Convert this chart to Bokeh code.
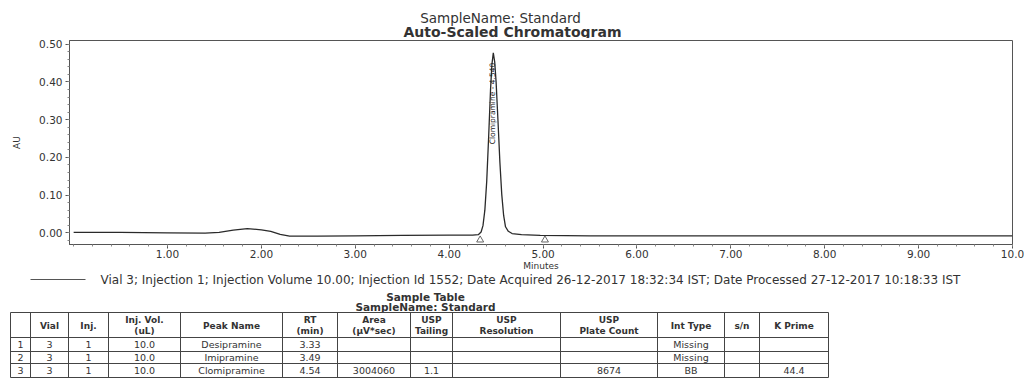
from math import pi
from bokeh.plotting import figure
from bokeh.layouts import column
from bokeh.models import Range1d, FixedTicker, PrintfTickFormatter
from bokeh.core.properties import value
from bokeh.embed import file_html
from bokeh.resources import INLINE

# ---------------- data ----------------
time_min = [0.00, 0.50, 1.00, 1.40, 1.55, 1.70, 1.85, 2.00, 2.10, 2.20, 2.30, 2.60, 3.00, 3.50,
            4.00, 4.25, 4.31, 4.34, 4.36, 4.38, 4.40, 4.42, 4.44, 4.455, 4.47, 4.485, 4.50,
            4.52, 4.54, 4.56, 4.58, 4.60, 4.63, 4.67, 4.77, 4.97, 5.50, 6.00, 7.00, 8.00,
            9.00, 10.00]
au = [0.001, 0.001, 0.000, -0.001, 0.001, 0.007, 0.011, 0.008, 0.004, -0.004, -0.009, -0.009,
      -0.008, -0.007, -0.006, -0.006, -0.005, 0.002, 0.019, 0.060, 0.137, 0.252, 0.377, 0.446,
      0.477, 0.453, 0.399, 0.296, 0.188, 0.102, 0.046, 0.016, 0.004, -0.002, -0.005, -0.007,
      -0.008, -0.008, -0.008, -0.008, -0.008, -0.008]

peak_apex_t = [4.462]
peak_label_y = [0.235]
peak_labels = ["Clomipramine - 4.540"]
integration_t = [4.33, 5.02]
integration_y = [-0.019, -0.019]

x_ticks = [1, 2, 3, 4, 5, 6, 7, 8, 9, 10]
y_ticks = [0.0, 0.1, 0.2, 0.3, 0.4, 0.5]

chart_title = "Auto-Scaled Chromatogram"
sample_title = "SampleName: Standard"
legend_text = ("Vial 3; Injection 1; Injection Volume 10.00; Injection Id 1552; "
               "Date Acquired 26-12-2017 18:32:34 IST; Date Processed 27-12-2017 10:18:33 IST")
table_title = "Sample Table"

header_top = ["", "Vial", "Inj.", "Inj. Vol.", "Peak Name", "RT", "Area", "USP", "USP", "USP",
              "Int Type", "s/n", "K Prime"]
header_bottom = ["", "", "", "(uL)", "", "(min)", "(µV*sec)", "Tailing", "Resolution",
                 "Plate Count", "", "", ""]
row_ids = ["1", "2", "3"]
vials = ["3", "3", "3"]
injs = ["1", "1", "1"]
inj_vols = ["10.0", "10.0", "10.0"]
peak_names = ["Desipramine", "Imipramine", "Clomipramine"]
rts = ["3.33", "3.49", "4.54"]
areas = ["", "", "3004060"]
usp_tailing = ["", "", "1.1"]
usp_resolution = ["", "", ""]
plate_counts = ["", "", "8674"]
int_types = ["Missing", "Missing", "BB"]
sn = ["", "", ""]
k_prime = ["", "", "44.4"]

# ---------------- style ----------------
FONT = "DejaVu Sans"
TXT = "#333333"
LINE = "#555555"
W = 1024


def no_align(f):
    try:
        f.frame_align = False
    except AttributeError:
        pass


def blank_fig(h):
    f = figure(width=W, height=h, x_range=Range1d(0, W), y_range=Range1d(h, 0),
               x_axis_location=None, y_axis_location=None, toolbar_location=None,
               output_backend="svg", min_border=0, title=None)
    f.outline_line_color = None
    f.grid.visible = False
    no_align(f)
    return f


# ---------------- header (titles) ----------------
top = blank_fig(38)
top.text(x=[500], y=[17], text=[sample_title], text_font=value(FONT), text_font_size="13.5px",
         text_color=TXT, text_align="center", text_baseline="middle")
top.text(x=[512], y=[31], text=[chart_title], text_font=value(FONT), text_font_size="14px",
         text_font_style="bold", text_color=TXT, text_align="center", text_baseline="middle")

# ---------------- chromatogram ----------------
p = figure(width=W, height=235, x_range=Range1d(-0.044, 10.0), y_range=Range1d(-0.031, 0.51),
           output_backend="svg", toolbar_location=None, title=None,
           min_border_left=69, min_border_right=12, min_border_top=2, min_border_bottom=26)
no_align(p)
p.xgrid.visible = False
p.ygrid.visible = False
p.outline_line_color = LINE
p.outline_line_width = 1

p.xaxis.ticker = FixedTicker(ticks=x_ticks, minor_ticks=[i * 0.2 for i in range(0, 51)])
p.xaxis.formatter = PrintfTickFormatter(format="%.2f")
p.xaxis.major_label_overrides = {10.0: "10.0"}
p.yaxis.ticker = FixedTicker(ticks=y_ticks, minor_ticks=[i * 0.02 for i in range(-1, 26)])
p.yaxis.formatter = PrintfTickFormatter(format="%.2f")
p.xaxis.axis_label = "Minutes"
p.yaxis.axis_label = "AU"
for ax in (p.xaxis, p.yaxis):
    ax.axis_line_color = LINE
    ax.major_tick_line_color = LINE
    ax.minor_tick_line_color = "#888888"
    ax.major_tick_out = 4
    ax.major_tick_in = 0
    ax.minor_tick_out = 2
    ax.minor_tick_in = 0
    ax.major_label_text_font = FONT
    ax.major_label_text_font_size = "10.5px"
    ax.major_label_text_color = TXT
    ax.axis_label_text_font = FONT
    ax.axis_label_text_font_size = "9px"
    ax.axis_label_text_font_style = "normal"
    ax.axis_label_text_color = TXT
p.xaxis.major_label_standoff = 1
p.xaxis.axis_label_standoff = 0
p.yaxis.major_label_standoff = 3
p.yaxis.axis_label_standoff = 14

p.line(time_min, au, line_color="#2a2a2a", line_width=1.3)
p.scatter(integration_t, integration_y, marker="triangle", size=7, fill_color=None,
          line_color="#666666", line_width=1)
p.text(x=peak_apex_t, y=peak_label_y, text=peak_labels, angle=pi / 2,
       text_font=value(FONT), text_font_size="7.5px", text_color="#222222",
       text_align="left", text_baseline="middle")

# ---------------- legend + sample table ----------------
tb = blank_fig(106)
tb.segment(x0=[30], y0=[6], x1=[85], y1=[6], line_color=LINE, line_width=1)
tb.text(x=[100], y=[6], text=[legend_text], text_font=value(FONT), text_font_size="12px",
        text_color=TXT, text_align="left", text_baseline="middle")
tb.text(x=[425], y=[23], text=[table_title], text_font=value(FONT), text_font_size="10.5px",
        text_font_style="bold", text_color=TXT, text_align="center", text_baseline="middle")
tb.text(x=[425], y=[33], text=[sample_title], text_font=value(FONT), text_font_size="10.5px",
        text_font_style="bold", text_color=TXT, text_align="center", text_baseline="middle")

col_edges = [10, 30, 68, 108, 180, 282, 337, 410, 452, 560, 657, 724, 759, 828]
row_edges = [39, 64, 78, 90, 104]
tb.segment(x0=col_edges, y0=[row_edges[0]] * len(col_edges), x1=col_edges,
           y1=[row_edges[-1]] * len(col_edges), line_color="#444444", line_width=1)
tb.segment(x0=[col_edges[0]] * len(row_edges), y0=row_edges, x1=[col_edges[-1]] * len(row_edges),
           y1=row_edges, line_color="#444444", line_width=1)

centers = [(a + b) / 2 for a, b in zip(col_edges[:-1], col_edges[1:])]
hx1, hy1, ht1, hx2, hy2, ht2 = [], [], [], [], [], []
for cx, t1, t2 in zip(centers, header_top, header_bottom):
    if t2:
        hx1.append(cx); hy1.append(46); ht1.append(t1)
        hx2.append(cx); hy2.append(57); ht2.append(t2)
    else:
        hx1.append(cx); hy1.append(52); ht1.append(t1)
tb.text(x=hx1, y=hy1, text=ht1, text_font=value(FONT), text_font_size="9px",
        text_font_style="bold", text_color=TXT, text_align="center", text_baseline="middle")
tb.text(x=hx2, y=hy2, text=ht2, text_font=value(FONT), text_font_size="9px",
        text_font_style="bold", text_color=TXT, text_align="center", text_baseline="middle")

columns_data = [row_ids, vials, injs, inj_vols, peak_names, rts, areas, usp_tailing,
                usp_resolution, plate_counts, int_types, sn, k_prime]
row_centers = [(a + b) / 2 for a, b in zip(row_edges[1:-1], row_edges[2:])]
cxs, cys, cts = [], [], []
for cx, col in zip(centers, columns_data):
    for ry, v in zip(row_centers, col):
        if v:
            cxs.append(cx); cys.append(ry); cts.append(v)
tb.text(x=cxs, y=cys, text=cts, text_font=value(FONT), text_font_size="9.5px",
        text_color=TXT, text_align="center", text_baseline="middle")

layout = column(top, p, tb, spacing=0)
open("out.html", "w").write(file_html(layout, INLINE))
